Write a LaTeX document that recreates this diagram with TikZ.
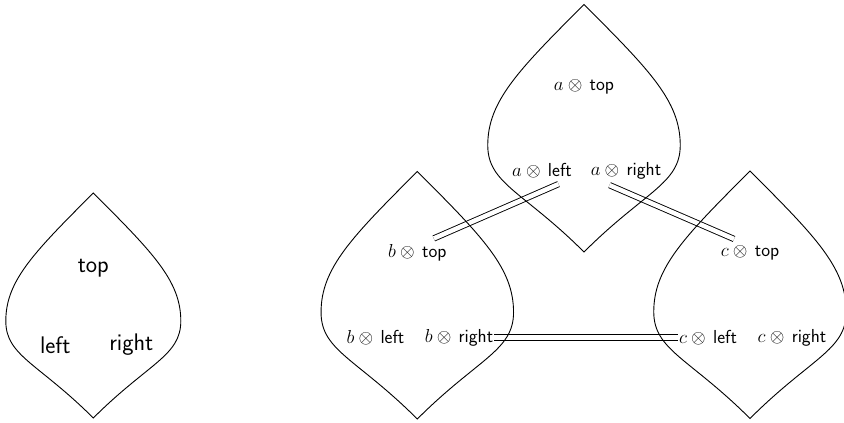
\documentclass[tikz,border=0pt]{standalone}
\usepackage{fix-cm}
\usepackage{fontspec}
\renewcommand{\familydefault}{\sfdefault}
\tikzset{
  leafline/.style={draw=black, line width=0.9pt, line join=miter},
  smalltext/.style={font=\fontsize{24}{28}\selectfont, inner xsep=1pt, inner ysep=6pt},
  bigtext/.style={font=\fontsize{18.8}{22}\selectfont, inner xsep=1pt, inner ysep=6pt},
  dbl/.style={draw=black, line width=0.9pt, double=white, double distance=4.5pt},
}
\newcommand{\leafshape}[3]{%
  \draw[leafline, shift={(#1,#2)}, scale=#3]
    (0,0) .. controls (-60,60) and (-87.5,88) .. (-87.5,128)
          .. controls (-87.5,163) and (-55,170) .. (0,225)
          .. controls (55,170) and (87.5,163) .. (87.5,128)
          .. controls (87.5,88) and (60,60) .. (0,0) -- cycle;}
\begin{document}
\begin{tikzpicture}[x=1pt,y=-1pt]
\useasboundingbox (0,0) rectangle (844,423);
% small leaf texts
\node[smalltext] (stop) at (93.3,268) {top};
\node[smalltext] (sleft) at (55.3,345) {left};
\node[smalltext] (sright) at (131.3,345) {right};
% leaf a
\node[bigtext] (atop) at (584,87) {$a\otimes{}$\,top};
\node[bigtext] (aleft) at (542,170.5) {$a\otimes{}$\,left};
\node[bigtext] (aright) at (626,170.5) {$a\otimes{}$\,right};
% leaf b
\node[bigtext] (btop) at (417.3,253) {$b\otimes{}$\,top};
\node[bigtext] (bleft) at (375.5,337.5) {$b\otimes{}$\,left};
\node[bigtext] (bright) at (459,337.5) {$b\otimes{}$\,right};
% leaf c
\node[bigtext] (ctop) at (750,252.5) {$c\otimes{}$\,top};
\node[bigtext] (cleft) at (708,337.5) {$c\otimes{}$\,left};
\node[bigtext] (cright) at (792,337.5) {$c\otimes{}$\,right};
% connectors
\draw[dbl] ([xshift=16.5pt]aleft.south) -- ([xshift=16.5pt]btop.north);
\draw[dbl] ([xshift=-16.5pt]aright.south) -- ([xshift=-16pt]ctop.north);
\draw[dbl] (bright.east) -- (cleft.west);
% leaves
\leafshape{93.3}{193}{1}
\leafshape{584}{4.5}{1.1}
\leafshape{417.3}{171.5}{1.1}
\leafshape{750}{171}{1.1}
\end{tikzpicture}
\end{document}
